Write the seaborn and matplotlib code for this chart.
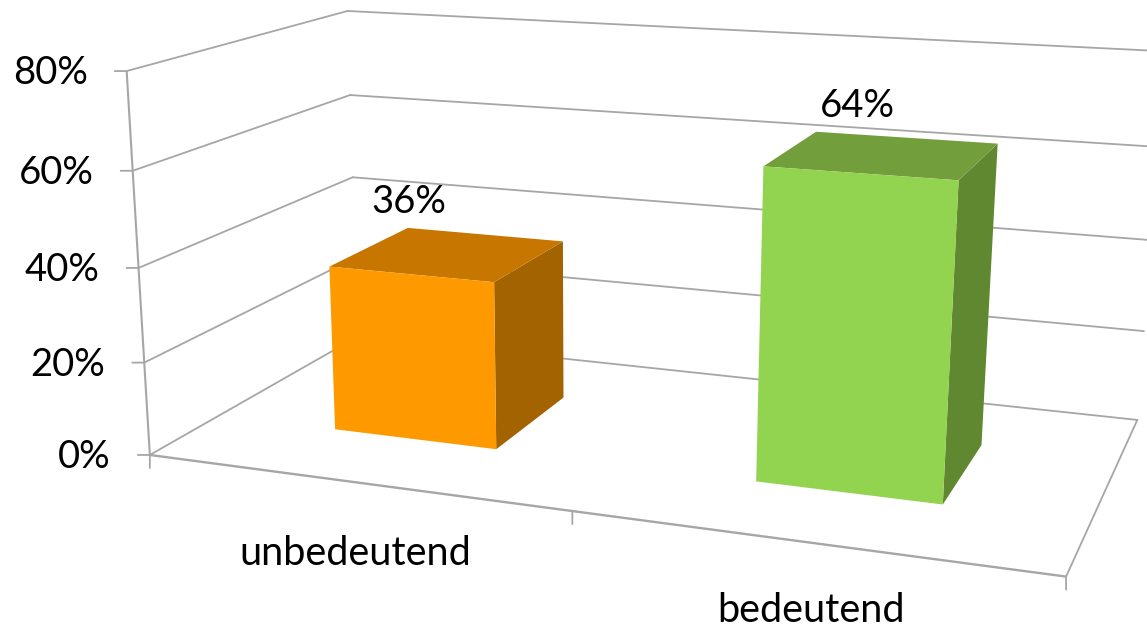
import numpy as np
import matplotlib
matplotlib.use('Agg')
import matplotlib.pyplot as plt
from matplotlib.transforms import Transform
import seaborn as sns

# Data
categories = ['unbedeutend', 'bedeutend']
values = [36, 64]
value_ticks = [0, 20, 40, 60, 80]
tick_labels = ['0%', '20%', '40%', '60%', '80%']
front_colors = ['#FF9900', '#92D350']
top_colors = ['#C77700', '#739E3C']
side_colors = ['#A26300', '#5F8830']
GRID = '#A6A6A6'

W, H = 1147, 628

# Camera calibration: chart box corners (x, depth, value) -> image pixel
box_points = [
    (-.5, 0, 0, 150, 455), (-.5, 0, 20, 145, 362), (-.5, 0, 40, 139, 268),
    (-.5, 0, 60, 132, 171), (-.5, 0, 80, 126, 71),
    (-.5, 1, 0, 357, 337), (-.5, 1, 20, 355, 258), (-.5, 1, 40, 352, 177),
    (-.5, 1, 60, 351, 95), (-.5, 1, 80, 348, 11),
    (1.5, 0, 0, 1066, 577), (1.5, 1, 0, 1138, 419),
    (1.5, 1, 40, 1150, 241), (1.5, 1, 80, 1165, 51),
]
A, b = [], []
for x, d, v, px, py in box_points:
    A.append([x, d, v, 1, 0, 0, 0, 0, -px * x, -px * d, -px * v])
    A.append([0, 0, 0, 0, x, d, v, 1, -py * x, -py * d, -py * v])
    b += [px, py]
P = np.append(np.linalg.lstsq(np.array(A, float), np.array(b, float), rcond=None)[0], 1).reshape(3, 4)


class Plane(Transform):
    # 2D coordinates on a plane of the box, with one of x/depth/value held fixed
    input_dims = 2
    output_dims = 2

    def __init__(self, axis, level):
        super().__init__()
        self.axis = axis
        self.level = level

    def transform_non_affine(self, xy):
        xy = np.asarray(xy, float)
        pts = np.insert(xy, self.axis, self.level, axis=1)
        h = P @ np.c_[pts, np.ones(len(pts))].T
        return np.c_[h[0] / h[2], H - h[1] / h[2]]


sns.set_theme(style='white')
plt.rcParams['font.family'] = ['Lato', 'DejaVu Sans']
FS_NUM = 27.5
FS_CAT = 28.5

fig = plt.figure(figsize=(W / 100, H / 100), dpi=100)
ax = fig.add_axes([0, 0, 1, 1])

# Bars
sns.barplot(x=categories, y=values, hue=categories, palette=front_colors, order=categories,
            hue_order=categories, width=0.4, saturation=1, legend=False, linewidth=0, ax=ax)
ax.set_axis_off()

D0, D1 = 0.3, 0.7
front = Plane(1, D0)
back_wall = Plane(1, 1)
front_edge = Plane(1, 0)
left_wall = Plane(0, -.5)
floor = Plane(2, 0)

# Walls and floor
for v in value_ticks:
    ax.plot([-.5, 1.5], [v, v], transform=back_wall, color=GRID, lw=1.3, clip_on=False, zorder=1)
    ax.plot([0, 1], [v, v], transform=left_wall, color=GRID, lw=1.3, clip_on=False, zorder=1)
ax.plot([0, 0], [0, 80], transform=left_wall, color=GRID, lw=1.5, clip_on=False, zorder=1)
ax.plot([-.5, 1.5], [0, 0], transform=front_edge, color=GRID, lw=1.7, clip_on=False, zorder=1)
ax.plot([1.5, 1.5], [0, 1], transform=floor, color=GRID, lw=1.3, clip_on=False, zorder=1)

# Ticks
tick_style = dict(arrowstyle='-', color=GRID, lw=1.3, shrinkA=0, shrinkB=0)
for v, lab in zip(value_ticks, tick_labels):
    ax.annotate('', xy=(-.5, v), xycoords=front_edge, xytext=(-12, 0), textcoords='offset pixels',
                arrowprops=tick_style, annotation_clip=False)
    ax.annotate(lab, xy=(-.5, v), xycoords=front_edge, xytext=(-39, -2), textcoords='offset pixels',
                ha='right', va='center', fontsize=FS_NUM, color='black', annotation_clip=False)
for x in [-.5, .5, 1.5]:
    ax.annotate('', xy=(x, 0), xycoords=front_edge, xytext=(0, -13), textcoords='offset pixels',
                arrowprops=tick_style, annotation_clip=False)

# Faces of the bars, built from the seaborn rectangles
label_lift = [(-2, 72), (-2, 67)]
bars = [p for p in ax.patches if p.get_height() > 0]
bars.sort(key=lambda p: p.get_x())
for i, bar in enumerate(bars):
    x0, x1 = bar.get_x(), bar.get_x() + bar.get_width()
    v = bar.get_height()
    bar.set_transform(front)
    bar.set_clip_on(False)
    bar.set_zorder(3)
    ax.fill([D0, D1, D1, D0], [0, 0, v, v], transform=Plane(0, x1), color=side_colors[i],
            lw=0, clip_on=False, zorder=2)
    ax.fill([x0, x1, x1, x0], [D0, D0, D1, D1], transform=Plane(2, v), color=top_colors[i],
            lw=0, clip_on=False, zorder=2)
    ax.annotate(f'{values[i]}%', xy=((x0 + x1) / 2, v), xycoords=front, xytext=label_lift[i],
                textcoords='offset pixels', ha='center', va='center', fontsize=FS_NUM, color='black',
                annotation_clip=False)

# Category labels
label_offsets = [(2, -72), (2, -68)]
for i, cat in enumerate(categories):
    ax.annotate(cat, xy=(i, 0), xycoords=front_edge, xytext=label_offsets[i], textcoords='offset pixels',
                ha='center', va='center', fontsize=FS_CAT, color='black', annotation_clip=False)

plt.savefig('out.png', dpi=100, facecolor='white')
